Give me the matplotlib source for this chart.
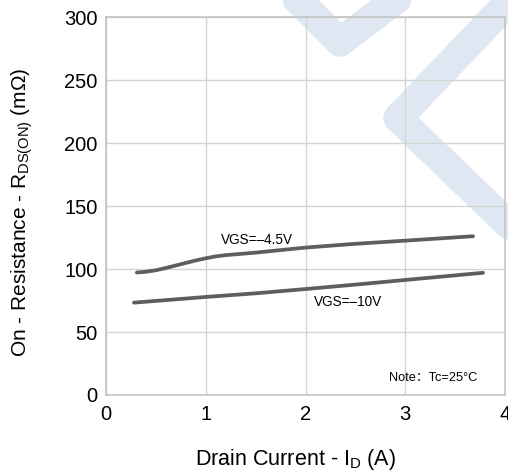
import matplotlib
matplotlib.use("Agg")
import matplotlib.pyplot as plt
from matplotlib.lines import Line2D

plt.rcParams['font.family'] = ['Liberation Sans', 'Noto Sans CJK SC', 'DejaVu Sans']
plt.rcParams['mathtext.fontset'] = 'custom'
plt.rcParams['mathtext.rm'] = 'Liberation Sans'

# curve data
id_45 = [0.31, 0.4, 0.5, 0.6, 0.7, 0.8, 0.9, 1.0, 1.1, 1.2, 1.35, 1.5, 2.0, 2.5, 3.0, 3.68]
rds_45 = [97.2, 97.8, 99, 100.8, 102.8, 104.8, 106.8, 108.5, 110, 111, 112, 113, 117, 120, 122.5, 126]
id_10 = [0.28, 1.0, 1.5, 2.0, 2.5, 3.0, 3.78]
rds_10 = [73.3, 77.8, 80.7, 84.1, 87.6, 91.3, 97]

xticks = [0, 1, 2, 3, 4]
yticks = [0, 50, 100, 150, 200, 250, 300]

W, H = 508, 475
fig = plt.figure(figsize=(W / 100, H / 100), dpi=100)

# faint logo watermark behind the chart
wm = '#dfe8f2'
def band(p, q, lw=21):
    fig.add_artist(Line2D([p[0] / W, q[0] / W], [1 - p[1] / H, 1 - q[1] / H],
                          color=wm, lw=lw, solid_capstyle='round', zorder=0))
band((278, -20), (340, 42))
band((340, 42), (422, -20))
band((525, -15), (398, 118))
band((398, 118), (530, 245))

ax = fig.add_axes([106 / W, 1 - 395 / H, 399 / W, 378 / H])
ax.set_facecolor('none')

ax.plot(id_45, rds_45, color='#5e5e5e', lw=2.7, solid_capstyle='round')
ax.plot(id_10, rds_10, color='#5e5e5e', lw=2.7, solid_capstyle='round')

ax.text(1.51, 123, 'VGS=\u20134.5V', fontsize=9.8, ha='center', va='center')
ax.text(2.43, 74, 'VGS=\u201310V', fontsize=9.8, ha='center', va='center')
ax.text(3.28, 13.5, 'Note：Tc=25°C', fontsize=9.2, ha='center', va='center')

ax.set_xlim(0, 4)
ax.set_ylim(0, 300)
ax.set_xticks(xticks)
ax.set_yticks(yticks)
ax.tick_params(length=0, labelsize=14.5, colors='black')
ax.tick_params(axis='y', pad=6)
ax.tick_params(axis='x', pad=7)
ax.grid(True, color='#d4d4d4', lw=1)
ax.set_axisbelow(True)
for s in ax.spines.values():
    s.set_color('#c4c4c4')
    s.set_linewidth(1.2)

fig.text(296 / W, 1 - 460 / H, 'Drain Current - I$_{\\rm D}$ (A)',
         fontsize=15.5, ha='center', va='center')
fig.text(22 / W, 1 - 212 / H, 'On - Resistance - R$_{\\rm DS(ON)}$ (m\u03a9)',
         fontsize=15, rotation=90, ha='center', va='center')

fig.savefig('out.png', dpi=100)
